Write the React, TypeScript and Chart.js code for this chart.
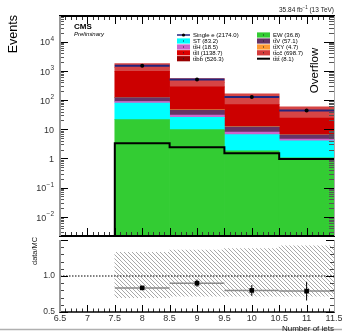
import React, { useEffect, useRef } from 'react';
import { Chart, registerables } from 'chart.js';
Chart.register(...registerables);

const FONT = '"Liberation Sans", Arial, Helvetica, sans-serif';

// ---- axis ranges ----
const xMin = 6.5;
const xMax = 11.5;
const yMin = 2.2e-3;
const yMax = 7.5e4;
const rMin = 0.5;
const rMax = 1.5;

// ---- bins ----
const binCenters = [8, 9, 10, 11];
const binHalfWidth = 0.5;
const binEdges = [7.5, 8.5, 9.5, 10.5, 11.5];

// ---- stacked MC components (per bin) ----
const ewValues = [21.2, 9.6, 1.83, 1.05];
const stValues = [57.8, 15.8, 4.7, 2.95];
const tthValues = [9.5, 5.0, 1.4, 0.6];
const ttvValues = [32, 15, 4.2, 1.8];
const ttxyValues = [2.5, 1.3, 0.4, 0.1];
const ttllValues = [837, 233, 56.5, 17.7];
const ttbbValues = [345, 112, 40, 14.5];
const ttccValues = [457, 148, 52, 19];
const ttttValues = [3.3, 2.4, 1.5, 0.95];

// ---- data ----
const dataValues = [1490, 498, 127, 44];

// ---- ratio panel ----
const ratioValues = [0.835, 0.9, 0.8, 0.79];
const ratioErrors = [0.02, 0.05, 0.075, 0.13];
const uncLow = [0.7, 0.72, 0.72, 0.72];
const uncHigh = [1.33, 1.36, 1.38, 1.42];

// ---- tick labels ----
const xTickValues = [6.5, 7, 7.5, 8, 8.5, 9, 9.5, 10, 10.5, 11, 11.5];
const xTickLabels = ['6.5', '7', '7.5', '8', '8.5', '9', '9.5', '10', '10.5', '11', '11.5'];
const yDecades = [-2, -1, 0, 1, 2, 3, 4];
const ratioTickValues = [0.5, 1.0];
const ratioTickLabels = ['0.5', '1.0'];

// ---- legend texts ----
const legendData = 'Single e (2174.0)';
const legendEW = 'EW (36.8)';
const legendST = 'ST (83.2)';
const legendTTV = 'tt\u0304V (57.1)';
const legendTTH = 'tt\u0304H (18.5)';
const legendTTXY = 'tt\u0304XY (4.7)';
const legendTTLL = 'tt\u0304ll (1138.7)';
const legendTTCC = 'tt\u0304cc\u0304 (698.7)';
const legendTTBB = 'tt\u0304bb\u0304 (526.3)';
const legendTTTT = 'tt\u0304tt\u0304 (8.1)';
const legendCol1 = [legendData, legendST, legendTTH, legendTTLL, legendTTBB];
const legendCol2 = [legendEW, legendTTV, legendTTXY, legendTTCC, legendTTTT];

const lumiMain = '35.84 fb';
const lumiSup = '\u22121';
const lumiTail = ' (13 TeV)';

function seg(ctx: CanvasRenderingContext2D, x1: number, y1: number, x2: number, y2: number) {
  ctx.beginPath();
  ctx.moveTo(x1, y1);
  ctx.lineTo(x2, y2);
  ctx.stroke();
}

function rotText(ctx: CanvasRenderingContext2D, text: string, x: number, y: number, font: string, align: CanvasTextAlign) {
  ctx.save();
  ctx.translate(x, y);
  ctx.rotate(-Math.PI / 2);
  ctx.font = font;
  ctx.textAlign = align;
  ctx.textBaseline = 'middle';
  ctx.fillText(text, 0, 0);
  ctx.restore();
}

const fixXTicks = (s: any) => {
  s.ticks = binCenters.map((v) => ({ value: v }));
};

const errorBarsPlugin = {
  id: 'errorBars',
  beforeDatasetDraw(chart: any, args: any) {
    const ds = chart.data.datasets[args.index];
    if (!ds.hLineColor) return;
    const ctx = chart.ctx;
    const xs = chart.scales.x;
    const ys = chart.scales.y;
    ctx.save();
    ds.data.forEach((p: any) => {
      const py = ys.getPixelForValue(p.y);
      ctx.strokeStyle = ds.hLineColor;
      ctx.lineWidth = ds.hLineWidth;
      seg(ctx, xs.getPixelForValue(p.x - p.xw), py, xs.getPixelForValue(p.x + p.xw), py);
      if (p.yErr) {
        ctx.strokeStyle = '#000';
        ctx.lineWidth = 1;
        const px = xs.getPixelForValue(p.x);
        seg(ctx, px, ys.getPixelForValue(p.y - p.yErr), px, ys.getPixelForValue(p.y + p.yErr));
      }
    });
    ctx.restore();
  },
};

const mainDecor = {
  id: 'mainDecor',
  afterDatasetsDraw(chart: any) {
    const ctx: CanvasRenderingContext2D = chart.ctx;
    const { left, right, top, bottom } = chart.chartArea;
    const xs = chart.scales.x;
    const ys = chart.scales.y;
    ctx.save();
    ctx.lineWidth = 1;
    // x ticks (top & bottom)
    for (let i = 0; i <= 50; i++) {
      const v = xMin + i * 0.1;
      const px = Math.round(xs.getPixelForValue(v)) + 0.5;
      const major = i % 5 === 0;
      ctx.strokeStyle = major ? '#000' : '#333';
      const len = major ? 8 : 4;
      seg(ctx, px, top, px, top + len);
      seg(ctx, px, bottom, px, bottom - len);
    }
    // log y ticks (left & right)
    for (let e = -3; e <= 5; e++) {
      for (let k = 1; k <= 9; k++) {
        const v = k * Math.pow(10, e);
        if (v < yMin || v > yMax) continue;
        const py = Math.round(ys.getPixelForValue(v)) + 0.5;
        const major = k === 1;
        ctx.strokeStyle = major ? '#000' : '#555';
        seg(ctx, left, py, left + (major ? 8 : 4), py);
        seg(ctx, right, py, right - (major ? 10 : 5), py);
      }
    }
    // frame
    ctx.strokeStyle = '#000';
    ctx.lineWidth = 2;
    seg(ctx, left - 1, top, right + 1, top);
    seg(ctx, left - 1, bottom, right + 1, bottom);
    ctx.strokeStyle = '#999';
    seg(ctx, left, top, left, bottom);
    ctx.lineWidth = 1;
    ctx.strokeStyle = '#aaa';
    seg(ctx, right + 0.5, top, right + 0.5, bottom);

    // y labels
    ctx.fillStyle = '#333';
    ctx.textBaseline = 'middle';
    yDecades.forEach((e) => {
      const py = ys.getPixelForValue(Math.pow(10, e));
      const rx = left - 6;
      if (e === 0 || e === 1) {
        ctx.font = `9px ${FONT}`;
        ctx.textAlign = 'right';
        ctx.fillText(e === 0 ? '1' : '10', rx, py + 1);
      } else {
        ctx.font = `6.5px ${FONT}`;
        const sup = String(e).replace('-', '\u2212');
        const sw = ctx.measureText(sup).width;
        ctx.textAlign = 'left';
        ctx.fillText(sup, rx - sw, py - 2.5);
        ctx.font = `9px ${FONT}`;
        ctx.textAlign = 'right';
        ctx.fillText('10', rx - sw - 0.3, py + 1.3);
      }
    });

    // titles and labels
    ctx.fillStyle = '#000';
    rotText(ctx, 'Events', 13.5, 15, `12.5px ${FONT}`, 'right');
    ctx.textAlign = 'left';
    ctx.textBaseline = 'alphabetic';
    ctx.font = `bold 8px ${FONT}`;
    ctx.fillText('CMS', 74, 28.8);
    ctx.font = `italic 6px ${FONT}`;
    ctx.fillText('Preliminary', 74, 36);

    // lumi
    ctx.font = `6.5px ${FONT}`;
    const wTail = ctx.measureText(lumiTail).width;
    ctx.font = `4.5px ${FONT}`;
    const wSup = ctx.measureText(lumiSup).width;
    ctx.font = `6.5px ${FONT}`;
    const wMain = ctx.measureText(lumiMain).width;
    const endX = right;
    ctx.fillStyle = '#222';
    ctx.fillText(lumiTail, endX - wTail, 11.7);
    ctx.fillText(lumiMain, endX - wTail - wSup - wMain, 11.7);
    ctx.font = `4.5px ${FONT}`;
    ctx.fillText(lumiSup, endX - wTail - wSup, 9);

    // Overflow
    ctx.fillStyle = '#000';
    ctx.textAlign = 'center';
    rotText(ctx, 'Overflow', 314.5, 70.5, `11.5px ${FONT}`, 'center');

    // legend
    const dsets = chart.data.datasets;
    const findDs = (lbl: string) => dsets.find((d: any) => d.label === lbl);
    const rows = [35, 41, 47, 52.8, 58.7];
    const cols = [
      { x: 177, labels: legendCol1 },
      { x: 257, labels: legendCol2 },
    ];
    cols.forEach((c) => {
      c.labels.forEach((lbl, r) => {
        const ds: any = findDs(lbl);
        const yc = rows[r];
        if (!ds) return;
        if (ds.legendKind === 'data') {
          ctx.strokeStyle = ds.hLineColor;
          ctx.lineWidth = 1.5;
          seg(ctx, c.x, yc, c.x + 13, yc);
          ctx.fillStyle = '#000';
          ctx.beginPath();
          ctx.arc(c.x + 6.5, yc, 1.6, 0, Math.PI * 2);
          ctx.fill();
        } else if (ds.legendKind === 'line') {
          ctx.strokeStyle = '#000';
          ctx.lineWidth = 2;
          seg(ctx, c.x, yc, c.x + 13, yc);
        } else {
          ctx.fillStyle = ds.legendColor;
          ctx.fillRect(c.x, yc - 2.6, 13, 5.2);
          ctx.fillStyle = '#222';
          ctx.fillRect(c.x + 6, yc - 0.5, 1, 1);
        }
        ctx.fillStyle = '#000';
        ctx.font = `6px ${FONT}`;
        ctx.textAlign = 'left';
        ctx.textBaseline = 'middle';
        ctx.fillText(lbl, c.x + 16, yc + 0.3);
      });
    });
    ctx.restore();
  },
};

const ratioDecor = {
  id: 'ratioDecor',
  afterDatasetsDraw(chart: any) {
    const ctx: CanvasRenderingContext2D = chart.ctx;
    const { left, right, top, bottom } = chart.chartArea;
    const xs = chart.scales.x;
    const ys = chart.scales.y;
    ctx.save();
    ctx.lineWidth = 1;
    for (let i = 0; i <= 50; i++) {
      const v = xMin + i * 0.1;
      const px = Math.round(xs.getPixelForValue(v)) + 0.5;
      const major = i % 5 === 0;
      ctx.strokeStyle = major ? '#000' : '#333';
      seg(ctx, px, bottom, px, bottom - (major ? 7 : 3.5));
    }
    for (let i = 0; i <= 10; i++) {
      const v = rMin + i * 0.1;
      const py = Math.round(ys.getPixelForValue(v)) + 0.5;
      const major = i % 5 === 0;
      ctx.strokeStyle = major ? '#000' : '#444';
      seg(ctx, left, py, left + (major ? 8 : 4), py);
      seg(ctx, right, py, right - (major ? 8 : 4), py);
    }
    ctx.strokeStyle = '#000';
    ctx.lineWidth = 1.5;
    seg(ctx, left - 1, bottom, right + 1, bottom);
    ctx.lineWidth = 2;
    ctx.strokeStyle = '#999';
    seg(ctx, left, top, left, bottom);
    ctx.lineWidth = 1;
    ctx.strokeStyle = '#aaa';
    seg(ctx, right + 0.5, top, right + 0.5, bottom);

    // page bottom border
    ctx.strokeStyle = '#b0b0b0';
    ctx.lineWidth = 1.5;
    seg(ctx, 0, chart.height - 1.5, chart.width, chart.height - 1.5);

    // y tick labels
    ctx.fillStyle = '#333';
    ctx.font = `8.5px ${FONT}`;
    ctx.textAlign = 'right';
    ctx.textBaseline = 'middle';
    ratioTickValues.forEach((v, i) => {
      ctx.fillText(ratioTickLabels[i], left - 5, ys.getPixelForValue(v));
    });
    // x tick labels
    ctx.font = `9px ${FONT}`;
    ctx.textAlign = 'center';
    xTickValues.forEach((v, i) => {
      ctx.fillText(xTickLabels[i], xs.getPixelForValue(v), bottom + 6.5);
    });
    ctx.fillStyle = '#111';
    ctx.font = `8px ${FONT}`;
    ctx.textAlign = 'right';
    ctx.textBaseline = 'top';
    ctx.fillText('Number of jets', right, bottom + 13);
    ctx.fillStyle = '#222';
    rotText(ctx, 'data/MC', 34.5, 1, `7.4px ${FONT}`, 'right');
    ctx.restore();
  },
};

export default function App() {
  const mainRef = useRef<HTMLCanvasElement | null>(null);
  const ratioRef = useRef<HTMLCanvasElement | null>(null);

  useEffect(() => {
    if (!mainRef.current || !ratioRef.current) return;

    const comps = [
      { label: legendEW, vals: ewValues, fill: '#33cc33', leg: '#33cc33' },
      { label: legendST, vals: stValues, fill: '#00ffff', leg: '#00ffff' },
      { label: legendTTH, vals: tthValues, fill: '#cc66cc', leg: '#cc66cc' },
      { label: legendTTV, vals: ttvValues, fill: '#663366', leg: '#663366' },
      { label: legendTTXY, vals: ttxyValues, fill: '#ff9933', leg: '#ff9933' },
      { label: legendTTLL, vals: ttllValues, fill: '#cc0000', leg: '#dd0000' },
      { label: legendTTBB, vals: ttbbValues, fill: '#d64545', leg: '#990000' },
      { label: legendTTCC, vals: ttccValues, fill: '#d64545', leg: '#d43c3c' },
    ];
    const cum = binCenters.map(() => 0);
    const barSets: any[] = comps.map((c) => {
      const data = binCenters.map((x, i) => {
        const lo = cum[i];
        const hi = lo + c.vals[i];
        cum[i] = hi;
        return { x, y: [Math.max(lo, yMin), hi] };
      });
      return {
        type: 'bar',
        label: c.label,
        legendColor: c.leg,
        legendKind: 'box',
        data,
        backgroundColor: c.fill,
        borderWidth: 0,
        barPercentage: 1,
        categoryPercentage: 1,
        grouped: false,
        order: 2,
      };
    });

    const ttttData = [{ x: binEdges[0], y: yMin }].concat(
      binEdges.map((x, i) => ({ x, y: ttttValues[Math.min(i, ttttValues.length - 1)] }))
    );

    const mainChart = new Chart(mainRef.current, {
      type: 'bar',
      data: {
        datasets: [
          ...barSets,
          {
            type: 'line',
            label: legendTTTT,
            legendKind: 'line',
            data: ttttData,
            stepped: true,
            borderColor: '#000',
            borderWidth: 2,
            pointRadius: 0,
            fill: false,
            order: 1,
          },
          {
            type: 'line',
            label: legendData,
            legendKind: 'data',
            hLineColor: '#24247c',
            hLineWidth: 2,
            data: binCenters.map((x, i) => ({ x, y: dataValues[i], xw: binHalfWidth })),
            showLine: false,
            pointRadius: 2,
            pointBackgroundColor: '#000',
            pointBorderWidth: 0,
            order: 0,
          },
        ] as any,
      },
      options: {
        responsive: false,
        animation: false,
        events: [],
        layout: { padding: { left: 60, right: 8, top: 16, bottom: 4 } },
        plugins: { legend: { display: false }, tooltip: { enabled: false } },
        scales: {
          x: { type: 'linear', min: xMin, max: xMax, offset: false, display: false, afterBuildTicks: fixXTicks },
          y: { type: 'logarithmic', min: yMin, max: yMax, display: false },
        },
      } as any,
      plugins: [errorBarsPlugin, mainDecor],
    });

    // hatch pattern
    const pc = document.createElement('canvas');
    pc.width = 4;
    pc.height = 4;
    const g = pc.getContext('2d')!;
    g.strokeStyle = '#a8a8a8';
    g.lineWidth = 1;
    g.beginPath();
    g.moveTo(0, 0);
    g.lineTo(4, 4);
    g.moveTo(-1, 3);
    g.lineTo(1, 5);
    g.moveTo(3, -1);
    g.lineTo(5, 1);
    g.stroke();
    const rctx = ratioRef.current.getContext('2d')!;
    const hatch = rctx.createPattern(pc, 'repeat');

    const ratioChart = new Chart(ratioRef.current, {
      type: 'bar',
      data: {
        datasets: [
          {
            type: 'bar',
            label: 'MC unc.',
            data: binCenters.map((x, i) => ({ x, y: [uncLow[i], uncHigh[i]] })),
            backgroundColor: hatch as any,
            borderWidth: 0,
            barPercentage: 1,
            categoryPercentage: 1,
            grouped: false,
            order: 3,
          },
          {
            type: 'line',
            label: 'unity',
            data: [
              { x: xMin, y: 1 },
              { x: xMax, y: 1 },
            ],
            borderColor: '#000',
            borderWidth: 1,
            borderDash: [1.5, 1.5],
            pointRadius: 0,
            fill: false,
            order: 2,
          },
          {
            type: 'line',
            label: 'data/MC',
            hLineColor: '#8a8a8a',
            hLineWidth: 1.5,
            data: binCenters.map((x, i) => ({ x, y: ratioValues[i], xw: binHalfWidth, yErr: ratioErrors[i] })),
            showLine: false,
            pointStyle: 'rect',
            pointRadius: 3.3,
            pointBackgroundColor: '#000',
            pointBorderWidth: 0,
            order: 0,
          },
        ] as any,
      },
      options: {
        responsive: false,
        animation: false,
        events: [],
        layout: { padding: { left: 60, right: 8, top: 0, bottom: 19 } },
        plugins: { legend: { display: false }, tooltip: { enabled: false } },
        scales: {
          x: { type: 'linear', min: xMin, max: xMax, offset: false, display: false, afterBuildTicks: fixXTicks },
          y: { type: 'linear', min: rMin, max: rMax, display: false },
        },
      } as any,
      plugins: [errorBarsPlugin, ratioDecor],
    });

    return () => {
      mainChart.destroy();
      ratioChart.destroy();
    };
  }, []);

  return (
    <div style={{ position: 'absolute', left: 0, top: 0, width: 342, height: 331, background: '#fff', overflow: 'hidden' }}>
      <canvas ref={mainRef} width={342} height={240} style={{ position: 'absolute', left: 0, top: 0, width: 342, height: 240 }} />
      <canvas ref={ratioRef} width={342} height={95} style={{ position: 'absolute', left: 0, top: 236, width: 342, height: 95 }} />
    </div>
  );
}
